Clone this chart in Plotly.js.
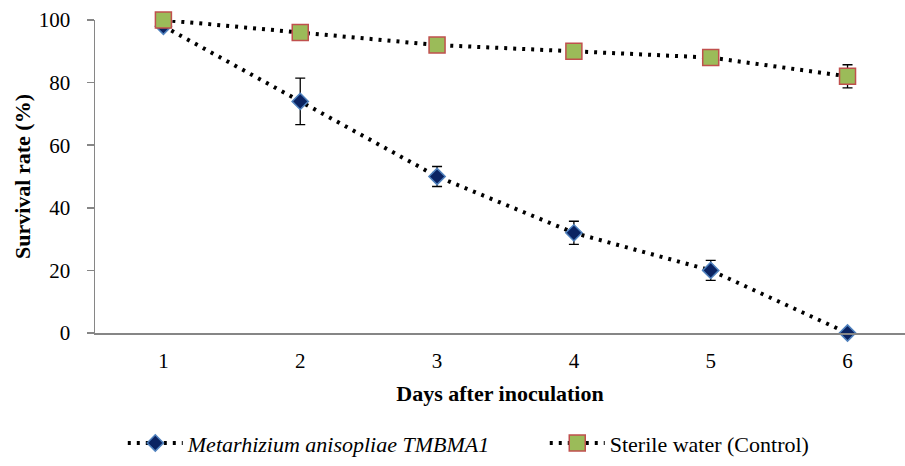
<!DOCTYPE html>
<html>
<head>
<meta charset="utf-8">
<script src="https://cdn.plot.ly/plotly-3.0.1.min.js"></script>
<style>html,body{margin:0;padding:0;background:#fff;}#chart{width:905px;height:466px;}</style>
</head>
<body>
<div id="chart"></div>
<script>
var days = [1, 2, 3, 4, 5, 6];
var metarhizium = [98, 74, 50, 32, 20, 0];
var metarhiziumErr = [1, 7.4, 3.2, 3.7, 3.2, 0];
var control = [100, 96, 92, 90, 88, 82];
var controlErr = [0, 0, 0, 0, 0, 3.7];
var tickLabels = ['1', '2', '3', '4', '5', '6'];
var yTicks = [0, 20, 40, 60, 80, 100];

var font = '"Liberation Serif", "Times New Roman", serif';

var traces = [
  {
    x: days, y: metarhizium, type: 'scatter', mode: 'lines+markers', cliponaxis: false,
    name: '<i>Metarhizium anisopliae TMBMA1</i>\u00A0\u00A0\u00A0\u00A0\u00A0\u00A0\u00A0\u00A0\u00A0',
    line: {color: '#000000', width: 4, dash: '3px,6px'},
    marker: {symbol: 'diamond', size: 12.5, color: '#0a2362', line: {color: '#4f81bd', width: 1.5}},
    error_y: {type: 'data', array: metarhiziumErr, visible: true, color: '#000000', thickness: 1.3, width: 5}
  },
  {
    x: days, y: control, type: 'scatter', mode: 'lines+markers', cliponaxis: false,
    name: 'Sterile water (Control)',
    line: {color: '#000000', width: 4, dash: '3px,6px'},
    marker: {symbol: 'square', size: 16, color: '#9bbb59', line: {color: '#c0504d', width: 1.5}},
    error_y: {type: 'data', array: controlErr, visible: true, color: '#000000', thickness: 1.3, width: 5}
  }
];

var layout = {
  width: 905, height: 466,
  margin: {l: 95, r: 0, t: 20, b: 133},
  paper_bgcolor: '#ffffff', plot_bgcolor: '#ffffff',
  font: {family: font, size: 21, color: '#000000'},
  showlegend: true,
  legend: {orientation: 'h', xref: 'container', yref: 'container', x: 0.518, xanchor: 'center', y: 0.049, yanchor: 'middle',
           font: {family: font, size: 22, color: '#000000'}, itemwidth: 55},
  xaxis: {
    range: [0.5, 6.42], tickmode: 'array', tickvals: days, ticktext: tickLabels,
    showgrid: false, zeroline: false, showline: true, linecolor: '#868686', linewidth: 1.5,
    ticks: '', ticklabelstandoff: 8,
    tickfont: {family: font, size: 21, color: '#000000'},
    title: {text: '<b>Days after inoculation</b>', font: {family: font, size: 22, color: '#000000'}, standoff: 14}
  },
  yaxis: {
    range: [0, 100], tickmode: 'array', tickvals: yTicks,
    showgrid: false, zeroline: false, showline: true, linecolor: '#868686', linewidth: 1.5,
    ticks: 'outside', ticklen: 7, tickcolor: '#868686', tickwidth: 1.5, ticklabelstandoff: 12,
    tickfont: {family: font, size: 21, color: '#000000'},
    title: {text: '<b>Survival rate (%)</b>', font: {family: font, size: 22, color: '#000000'}, standoff: 2}
  }
};

Plotly.newPlot('chart', traces, layout, {displayModeBar: false, staticPlot: true});
</script>
</body>
</html>
